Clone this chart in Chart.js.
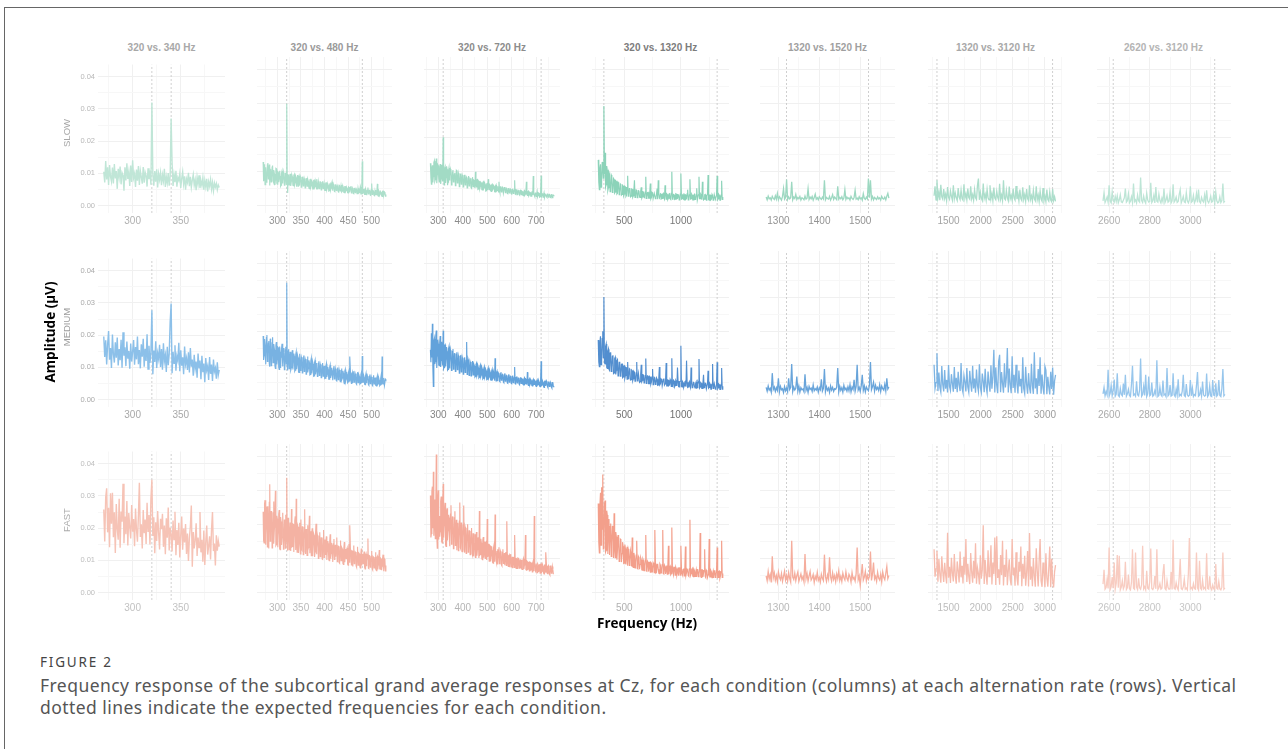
<!DOCTYPE html>
<html>
<head>
<meta charset="utf-8">
<script src="https://cdn.jsdelivr.net/npm/chart.js@4.4.1/dist/chart.umd.min.js"></script>
<style>
  html, body { margin: 0; padding: 0; background: #fff; }
  body { width: 1288px; height: 749px; position: relative; overflow: hidden; font-family: "Liberation Sans", Arial, sans-serif; }
  .frame { position: absolute; left: 4px; top: 7px; width: 1300px; height: 800px; border-top: 1px solid #666; border-left: 1px solid #666; }
  canvas { position: absolute; }
  .lbl { position: absolute; white-space: nowrap; transform: translate(-50%, -50%); }
  .rot { transform: translate(-50%, -50%) rotate(-90deg); }
  .strip { font-weight: bold; font-size: 10px; }
  .rate { font-size: 9.5px; color: #aaa; }
  .axis-title { font-family: "Open Sans", sans-serif; font-weight: bold; font-size: 13.5px; color: #000; }
  .cap-title { position: absolute; left: 40px; top: 653px; font-family: "Noto Sans", sans-serif; font-size: 13.5px; letter-spacing: 1.8px; color: #444; white-space: nowrap; }
  .cap-text { position: absolute; left: 40px; top: 674px; font-family: "Noto Sans", sans-serif; font-size: 17.5px; letter-spacing: 0.45px; line-height: 22px; color: #555; white-space: nowrap; }
</style>
</head>
<body>
<div class="frame"></div>
<div id="fig"></div>
<div class="cap-title">FIGURE 2</div>
<div class="cap-text">Frequency response of the subcortical grand average responses at Cz, for each condition (columns) at each alternation rate (rows). Vertical<br>dotted lines indicate the expected frequencies for each condition.</div>
<script>
// ---- conditions (columns) and alternation rates (rows) ----
const conditions = ['320 vs. 340 Hz', '320 vs. 480 Hz', '320 vs. 720 Hz', '320 vs. 1320 Hz', '1320 vs. 1520 Hz', '1320 vs. 3120 Hz', '2620 vs. 3120 Hz'];
const rates = ['SLOW', 'MEDIUM', 'FAST'];
const expectedHz = [[320, 340], [320, 480], [320, 720], [320, 1320], [1320, 1520], [1320, 3120], [2620, 3120]];

// frequency bins of each condition: first bin and bin spacing (Hz)
const binStart = [270, 270, 268, 270, 1270, 1275, 2570];
const binStep = [1, 1, 2, 5, 2.5, 15, 5];

// x range and breaks per condition
const xLimits = [[264, 396], [257, 543], [242.8, 797.2], [215, 1425], [1255, 1585], [1180.5, 3259.5], [2540, 3200]];
const xMajor = [[300, 350], [300, 350, 400, 450, 500], [300, 400, 500, 600, 700], [500, 1000], [1300, 1400, 1500], [1500, 2000, 2500, 3000], [2600, 2800, 3000]];
const xMinor = [[275, 325, 375], [275, 325, 375, 425, 475, 525], [250, 350, 450, 550, 650, 750], [250, 750, 1250], [1350, 1450, 1550], [1250, 1750, 2250, 2750, 3250], [2700, 2900, 3100]];
const yMajor = [0, 0.01, 0.02, 0.03, 0.04];
const yMinor = [0.005, 0.015, 0.025, 0.035];
const yLimits = [-0.0023, 0.0438];

// ---- grand-average amplitudes, in nV (1 nV = 0.001 µV) ----
// SLOW
const slow_320_340 = [10.5,7.2,13.8,8.1,11.9,6.4,12.6,9.0,7.5,11.8, 6.9,12.9,8.4,10.7,5.2,11.4,8.8,12.1,6.6,10.2, 9.4,4.6,11.9,7.8,13.1,8.3,10.5,6.1,12.4,7.3, 14.1,8.6,9.9,5.8,11.2,7.7,12.3,6.4,10.8,8.9, 6.8,12.0,7.1,10.4,9.3,5.9,11.6,8.2,10.9,6.5, 32.0,9.8,6.2,10.7,7.4,11.3,5.6,9.9,8.0,10.2, 6.3,9.5,7.6,11.4,5.8,8.9,7.0,10.1,6.2,9.2, 27.0,13.4,6.1,9.6,7.3,10.8,5.9,8.7,7.8,9.9, 5.5,8.4,10.5,6.7,9.1,4.9,8.3,7.2,10.2,6.0, 8.9,5.7,7.9,9.6,6.3,8.0,4.8,8.8,6.6,9.4, 5.4,7.7,6.2,8.6,4.9,7.8,5.8,8.3,4.4,7.4, 6.0,8.1,5.1,7.2,4.6,7.0,5.7,6.8,4.9,6.4, 5.6];
const slow_320_480 = [12.8,7.1,8.0,12.1,6.1,9.8,11.2,6.8,7.3,11.9,12.5,7.8,9.4,12.0,5.8,10.6,10.3,6.9,8.1,11.3, 11.7,7.2,6.6,10.4,9.2,6.0,7.5,10.9,10.8,6.5,6.2,9.9,9.7,6.8,7.9,10.2,8.6,5.6,5.9,9.5, 10.1,6.4,7.0,9.7,8.8,5.9,6.3,9.4,9.6,6.2,30.0,7.4,3.6,9.0,8.9,6.0,6.4,9.2,9.3,5.7, 7.2,8.9,8.4,5.9,5.8,8.8,9.1,6.1,6.7,8.6,8.2,5.5,7.4,8.9,5.6,8.3,8.7,5.8,6.3,8.4, 7.9,5.3,5.4,8.2,8.5,5.7,6.6,7.9,7.3,5.1,5.2,7.8,8.0,5.6,6.1,7.7,7.0,5.0,4.9,7.5, 7.6,5.3,5.8,7.2,6.9,4.8,4.8,7.3,7.4,5.2,5.5,6.9,6.3,4.7,7.7,5.4,4.7,7.0,6.2,4.9, 5.3,6.9,6.8,4.5,4.6,6.7,7.1,4.9,5.7,6.5,6.0,4.4,4.4,6.6,6.6,4.6,5.1,6.3,5.9,4.2, 4.3,6.2,6.4,4.5,5.0,6.4,6.9,4.3,4.5,6.1,5.6,4.1,4.0,6.0,6.1,4.4,4.8,5.8,5.4,4.0, 3.9,5.9,5.8,4.2,4.6,5.7,6.0,3.9,4.2,5.6,5.2,3.8,3.7,5.5,5.5,4.1,4.4,5.3,5.0,3.7, 3.6,5.4,5.3,3.8,4.1,5.2,5.7,3.6,3.9,5.1,4.8,3.5,3.4,5.0,5.1,3.7,4.0,4.9,4.6,3.4, 3.5,5.0,4.9,3.6,3.8,4.8,5.4,3.3,3.3,4.7,13.0,3.5,3.6,4.6,4.7,3.2,3.2,4.8,4.4,3.1, 3.0,4.5,5.2,3.3,3.6,4.4,4.3,3.0,2.9,4.6,6.4,3.2,3.4,4.3,4.1,2.9,2.8,4.2,4.5,3.1, 3.1,4.1,6.3,2.9,2.7,4.3,4.0,3.0,3.3,4.0,3.8,2.8,2.6,4.1,4.2,3.0,3.0,3.9,3.7,2.7, 3.2];
const slow_320_720 = [12.4,8.1,6.2,10.9,11.8,6.7,8.5,12.6,13.1,7.1,7.6,11.4,13.8,6.5,9.0,12.0,11.7,7.9,6.9,10.2, 12.2,6.3,7.8,11.9,10.9,7.0,20.1,8.4,6.0,10.8,11.3,6.6,8.2,11.5,10.6,5.9,6.8,10.0,11.0,7.3, 8.6,10.6,9.9,6.0,6.4,9.8,10.4,6.9,7.5,9.2,9.6,5.8,6.1,10.3,10.1,6.6,7.2,9.5,8.8,5.5, 5.9,9.1,9.4,6.2,6.8,8.9,8.5,5.4,5.6,8.7,9.0,6.0,6.5,8.4,8.1,5.1,5.3,8.0,8.6,5.7, 6.2,7.9,7.7,5.2,5.0,7.8,8.3,5.5,5.8,7.4,7.2,5.0,9.9,6.1,5.4,7.5,7.6,4.7,4.8,7.1, 7.0,5.0,5.6,6.8,6.6,4.6,4.5,6.7,6.9,4.9,5.2,6.5,6.1,4.2,4.3,6.3,6.4,4.5,7.7,5.8, 4.6,6.1,5.9,4.3,4.1,6.0,6.2,4.6,4.9,5.8,5.6,4.0,3.9,5.7,6.0,4.2,4.4,5.6,5.3,3.9, 6.9,4.5,3.8,5.4,5.5,3.9,4.2,5.3,5.1,3.6,3.6,5.2,5.4,3.7,4.0,5.0,4.8,3.5,3.4,4.9, 5.0,3.6,3.9,4.8,4.6,3.4,3.3,4.7,4.9,3.5,3.7,4.5,7.4,3.3,3.2,4.6,4.5,3.1,3.8,4.4, 4.2,3.2,3.0,4.3,4.6,3.1,3.4,4.2,4.0,2.9,2.8,4.1,4.3,3.0,3.3,4.0,6.9,3.2,2.9,3.9, 4.1,2.8,3.1,3.8,3.7,2.7,2.7,3.9,4.0,3.0,8.6,3.4,3.0,2.6,3.6,3.7,2.6,2.9,3.9,2.5, 2.9,3.6,3.5,2.4,2.5,3.4,8.7,2.7,3.2,3.5,2.4,2.9,3.6,2.3,2.8,3.4,3.3,2.5,2.3,3.3, 3.4,2.4,2.6,3.2,3.1,2.3,2.2,3.1,3.3,2.2,2.5,3.0,2.9];
const slow_320_1320 = [13.4,6.8,4.6,11.0,12.1,5.3,7.0,12.8,11.2,8.0,29.3,9.2,15.5,5.4,6.1,11.6,10.3,4.4,5.2,9.7, 9.1,4.0,4.8,8.9,8.4,3.8,4.1,7.9,7.6,3.6,3.9,7.2,7.0,3.3,3.5,6.8,6.5,3.1,3.7,6.3, 6.1,3.0,3.2,5.9,5.7,2.8,3.3,5.6,5.4,2.6,2.9,5.2,8.7,2.7,3.0,4.9,5.0,2.5,2.7,4.8, 4.7,2.4,2.8,4.6,7.4,2.3,2.5,4.5,4.4,2.2,2.6,4.3,4.2,2.4,2.3,4.1,5.3,2.1,2.5,4.0, 3.9,2.3,2.2,3.9,8.4,2.0,2.4,3.7,3.8,2.1,2.1,3.6,6.4,1.9,2.3,3.8,3.6,2.0,2.0,3.5, 3.5,1.9,2.2,3.4,4.9,1.8,7.4,3.6,2.1,1.9,3.4,3.3,1.9,2.0,3.3,3.5,2.2,1.8,5.9,3.2, 1.8,3.4,3.2,1.7,2.1,3.3,3.4,1.9,1.7,3.5,9.9,1.8,2.0,3.2,3.1,1.7,1.8,3.4,3.3,1.9, 2.0,3.1,3.0,1.6,1.7,3.3,9.4,1.8,1.9,3.0,3.2,1.7,1.6,3.2,3.1,1.8,2.0,3.4,4.6,1.6, 1.7,3.1,7.7,1.8,1.9,3.3,3.0,1.6,1.6,3.0,3.2,1.7,1.8,3.2,5.0,1.5,1.5,3.1,8.4,1.9, 1.9,3.3,3.0,1.6,6.9,3.0,1.6,1.8,3.1,3.2,1.8,1.5,2.9,3.1,8.9,1.7,1.5,3.0,3.0,1.6, 1.8,3.2,2.8,1.5,1.6,3.1,3.1,1.7,1.7,3.0,8.6,1.6,1.9,3.2,2.9,1.5,1.5,3.0,7.2,1.7, 2.4];
const slow_1320_1520 = [2.4,1.6,2.7,1.9,2.2,1.5,2.6,2.0,1.7,2.8, 1.8,3.5,1.6,2.5,2.0,1.5,2.6,4.9,1.8,2.3, 7.6,1.7,2.5,1.9,2.2,6.9,1.6,2.4,2.0,3.2, 1.7,2.3,1.9,2.6,1.5,2.2,2.0,1.6,2.7,1.8, 2.1,4.9,1.7,2.4,1.9,2.6,1.5,2.3,3.3,1.8, 2.2,1.6,2.5,2.0,1.7,2.4,1.9,7.4,1.6,2.3, 2.0,1.8,2.6,1.5,2.2,3.1,1.7,2.4,2.0,1.6, 5.6,1.8,2.3,1.9,2.5,1.6,2.1,4.6,1.7,2.4, 1.9,2.2,1.5,2.6,2.0,1.7,2.3,4.4,1.8,2.1, 1.6,2.5,1.9,2.2,1.5,3.4,2.0,1.7,2.4,1.9, 7.9,2.2,7.4,1.8,2.6,1.6,2.3,2.0,1.7,2.5, 1.9,2.2,1.5,2.6,2.0,1.8,2.4,1.6,2.7,3.5, 2.1];
const slow_1320_3120 = [2.8,5.6,1.6,7.4,2.2,3.9,1.5,6.0,2.5,1.8, 4.8,2.0,3.3,1.4,5.4,2.3,1.7,4.2,2.6,1.5, 5.9,1.9,3.6,2.2,1.4,5.1,2.4,1.7,4.5,2.0, 1.5,6.2,2.1,3.4,1.6,4.9,2.3,1.8,5.6,1.9, 3.1,1.5,4.6,2.2,1.7,5.8,7.9,1.6,3.8,2.1, 1.4,6.4,2.0,3.2,1.5,4.7,2.2,1.6,5.9,1.9, 3.5,1.4,5.2,2.1,1.6,4.1,2.3,1.5,6.3,1.8, 3.0,1.4,7.4,2.0,1.6,4.4,2.2,1.3,5.5,1.9, 2.9,1.4,4.9,2.1,1.5,5.7,1.8,3.3,1.3,4.6, 2.0,1.4,5.3,1.7,3.1,1.2,4.8,2.0,1.4,5.9, 1.7,2.8,1.2,4.4,1.9,1.3,5.6,1.6,3.0,1.1, 4.2,1.8,1.2,5.1,1.5,2.7,1.1,4.6,1.7,1.2, 3.9,1.5,1.0,4.8,1.4,2.5,1.1];
const slow_2620_3120 = [1.3,3.7,0.8,1.5,2.4,0.9,5.9,1.2,0.7,3.9, 1.4,0.9,2.6,1.1,2.8,0.7,1.6,3.1,1.0,0.8, 1.5,2.2,4.9,0.9,1.3,3.4,0.7,1.2,2.5,0.8, 6.4,1.1,1.6,0.7,3.0,1.3,0.9,8.2,1.4,0.8, 2.7,1.2,0.6,3.6,1.5,0.9,1.1,6.6,0.8,1.3, 2.9,0.7,5.4,1.2,0.9,3.3,1.4,0.7,2.1,1.0, 4.9,0.8,1.5,2.8,0.9,1.2,3.9,0.7,1.3,6.2, 0.9,1.4,2.4,0.8,1.1,3.2,4.6,0.7,1.5,2.6, 1.0,0.8,3.7,1.3,0.7,1.6,5.6,0.9,1.2,2.9, 0.7,1.4,3.5,0.8,4.6,1.1,0.7,2.3,1.3,0.9, 3.0,0.8,4.4,1.2,0.7,1.5,2.7,0.9,1.1,3.4, 0.8,3.9,1.3,0.7,1.0,2.5,0.8,1.4,6.4,0.9, 1.2];
// MEDIUM
const medium_320_340 = [19.6,13.2,18.4,10.9,17.1,21.3,12.4,16.0,9.8,20.2, 14.1,11.5,17.8,13.0,19.3,10.6,15.7,12.2,18.6,9.9, 20.9,13.6,16.2,10.4,18.0,12.7,15.1,9.6,17.4,11.8, 14.9,18.5,10.8,16.3,12.5,19.6,11.0,15.4,9.7,17.2, 13.3,18.9,10.2,15.8,12.0,20.3,9.5,16.7,11.4,14.6, 27.7,7.9,15.2,11.7,18.1,9.8,14.4,12.6,17.0,10.1, 15.7,9.3,17.5,11.9,13.8,8.6,16.4,10.7,14.2,24.0, 29.8,8.2,14.8,11.3,16.9,9.0,13.5,12.1,17.6,8.8, 15.3,10.5,13.1,7.9,16.5,11.0,12.8,9.2,14.7,8.4, 16.0,10.2,12.4,7.4,13.9,9.6,11.8,6.8,14.3,9.9, 12.1,6.3,13.6,8.5,11.2,5.4,12.9,9.1,10.4,6.1, 13.2,8.0,10.9,5.8,12.4,8.7,9.8,6.5,11.6,7.6, 9.2];
const medium_320_480 = [18.7,11.6,12.9,17.8,16.1,10.9,10.3,18.2,19.0,11.2,13.5,16.6,17.2,10.5,9.6,17.9,15.8,9.9,11.4,16.7, 18.3,10.8,12.0,16.3,14.6,9.8,9.1,15.9,16.9,10.3,11.7,15.4,15.2,9.5,8.8,15.6,14.0,9.2,12.4,14.9, 16.4,9.7,10.1,15.1,13.7,8.7,8.9,14.6,15.5,10.4,34.4,9.6,8.5,14.2,14.8,9.0,10.6,14.0,13.2,8.6, 9.4,13.6,14.5,8.8,11.1,13.5,12.7,8.3,8.6,13.1,13.9,8.9,10.2,12.9,12.3,8.0,7.9,12.7,13.4,8.5, 10.6,12.4,11.8,7.8,8.1,12.2,12.9,8.2,9.7,11.9,11.3,7.4,7.5,11.8,12.6,7.9,9.2,11.5,10.8,7.2, 7.3,11.3,12.1,7.6,8.9,11.0,10.4,6.8,6.9,10.9,11.5,7.3,8.4,10.7,10.0,6.7,7.1,10.6,11.2,7.0, 8.0,10.3,9.6,6.4,6.5,10.1,10.7,6.8,7.8,9.9,9.3,6.1,6.2,9.8,10.5,6.6,7.4,9.6,8.8,5.9, 5.9,9.5,10.1,6.3,7.2,9.3,8.5,5.6,5.7,9.2,9.8,6.0,6.9,9.0,8.2,5.5,5.4,8.9,9.4,5.8, 6.6,8.7,7.9,5.3,5.2,8.6,9.1,5.7,6.3,8.4,7.7,5.1,4.6,8.3,8.8,5.4,6.0,8.1,7.4,4.9, 5.1,8.0,8.5,5.2,12.6,7.9,5.8,4.7,7.2,7.8,4.8,7.7,8.3,5.0,5.6,7.5,6.9,4.6,4.4,7.4, 8.0,4.9,5.3,7.3,6.7,4.5,4.7,7.2,7.8,4.8,12.8,5.1,5.0,7.0,6.5,4.4,4.3,6.9,7.6,4.7, 5.4,6.8,6.2,4.3,4.1,6.7,7.3,4.6,5.2,6.6,6.0,4.2,4.0,6.5,7.1,4.5,4.9,6.4,5.8,4.1, 3.9,6.3,6.9,4.4,4.6,6.2,5.6,4.0,4.2,6.1,7.0,4.3,12.6,4.8,4.5,6.0,6.3,4.1,4.1,5.9, 5.7];
const medium_320_720 = [14.6,10.9,19.5,12.3,22.3,9.6,3.8,17.2,17.9,10.4,11.2,18.8,20.3,9.2,12.8,17.6,16.4,10.1,9.9,16.8, 18.7,9.5,11.5,17.0,15.3,10.0,20.2,9.0,9.4,15.9,16.1,9.7,11.9,15.4,14.2,8.6,8.8,14.9,15.6,9.1, 10.7,14.5,13.5,8.5,9.1,14.1,14.8,8.9,10.3,13.6,12.6,8.2,8.4,13.3,13.9,8.7,9.6,12.9,12.2,7.7, 7.9,12.6,13.1,8.1,9.0,12.3,11.6,7.4,7.5,11.9,12.4,7.9,8.7,11.5,16.9,7.3,7.6,11.7,11.0,7.0, 8.3,11.1,10.5,6.9,7.1,10.8,11.3,7.2,7.9,10.4,9.8,6.6,6.8,10.2,10.6,6.9,7.4,9.9,9.3,6.3, 6.5,9.7,10.1,6.7,7.2,9.4,8.9,6.0,6.2,9.1,9.6,6.4,6.9,8.8,8.4,5.8,5.9,8.7,9.2,6.2, 6.6,8.5,8.0,5.7,5.6,8.3,8.8,6.0,6.3,8.1,7.6,5.5,12.1,7.8,5.4,7.9,8.3,5.3,6.1,7.7, 7.4,5.4,5.2,7.5,8.0,5.6,5.9,7.3,7.1,5.1,4.9,7.2,7.7,5.3,5.6,7.0,6.8,4.8,4.7,6.9, 7.4,5.0,5.3,6.8,6.6,4.7,4.6,6.7,7.0,4.9,5.1,6.5,9.5,4.6,4.5,6.4,6.7,4.8,5.0,6.3, 6.1,4.5,4.3,6.2,6.5,4.7,4.8,6.1,5.9,4.4,4.2,6.0,6.3,4.5,4.7,5.9,5.7,4.3,8.0,5.8, 4.1,5.7,6.0,4.2,4.6,5.8,5.5,4.1,3.9,5.6,5.9,4.3,4.4,5.5,5.3,4.0,3.8,5.4,5.7,4.2, 4.3,5.5,5.1,3.9,3.7,5.3,11.2,4.1,4.2,5.4,5.0,3.8,3.5,5.2,5.4,3.9,4.0,5.3,4.8,3.7, 3.4,5.1,5.2,3.8,3.9,5.0,4.6,3.6,3.3,4.9,5.0,3.7,3.8];
const medium_320_1320 = [17.5,11.0,9.6,16.8,18.6,10.2,11.2,17.9,20.1,12.3,30.2,10.8,10.4,15.6,16.3,9.4,9.1,14.2,14.8,8.8, 8.5,13.6,13.9,8.2,9.3,12.7,13.0,7.6,7.8,12.0,12.4,7.3,8.6,11.4,11.7,6.9,7.2,10.9,11.1,6.8, 7.5,10.3,10.4,6.4,6.6,9.8,9.9,6.2,7.0,9.4,9.3,5.9,11.0,6.1,6.3,9.0,8.8,5.7,5.8,8.6, 8.4,5.5,6.1,8.2,7.9,5.3,5.5,7.8,11.0,5.4,5.9,7.6,7.6,5.0,5.2,7.4,10.2,5.2,5.6,7.2, 7.1,4.8,4.9,7.0,12.0,4.7,5.4,6.9,6.8,4.6,4.6,6.7,6.5,4.5,5.1,6.6,8.9,4.3,4.4,6.4, 6.2,4.4,4.8,6.3,5.9,4.1,4.2,6.2,9.5,4.3,4.6,6.0,5.8,4.0,4.0,5.9,6.1,4.2,4.5,5.8, 10.7,3.9,3.9,5.7,5.6,4.1,4.3,5.8,5.3,3.8,12.1,4.0,3.8,5.6,5.4,3.7,4.1,5.5,5.1,3.9, 9.4,5.4,3.7,3.6,5.2,5.3,15.8,3.8,3.6,5.2,4.9,3.5,4.0,5.1,5.3,3.7,11.4,5.0,3.5,3.6, 4.8,5.2,3.9,3.4,9.4,5.0,3.4,3.5,5.0,4.9,3.8,3.3,4.6,5.1,3.3,3.4,5.2,4.8,11.9,3.3, 3.6,4.9,4.7,3.2,3.2,4.8,7.2,3.4,3.7,4.7,4.5,3.1,3.1,4.6,8.4,3.3,3.5,4.7,4.4,3.0, 3.0,4.5,10.4,3.2,3.6,4.6,4.6,3.0,3.1,4.4,10.9,3.1,3.4,4.5,4.3,2.9,2.9,4.4,9.2,3.0, 3.8];
const medium_1320_1520 = [3.5,2.4,3.9,2.7,3.2,2.1,7.7,2.9,3.6,2.3, 3.4,2.6,6.2,2.2,3.8,2.8,3.1,2.0,3.7,2.5, 3.3,2.2,6.2,2.9,3.5,10.4,2.3,3.6,2.7,3.2, 6.7,2.4,3.9,2.1,3.4,2.8,3.0,2.2,7.4,2.6, 3.5,2.0,3.8,2.9,3.3,2.3,4.2,2.5,3.1,2.7, 3.6,2.1,3.4,2.8,5.9,2.4,3.2,8.9,2.2,3.7, 2.6,3.3,2.0,3.9,2.7,3.5,2.3,3.1,2.9,3.6, 9.2,2.2,3.8,2.6,3.4,2.1,4.1,2.8,3.3,2.4, 3.7,2.5,4.3,2.2,3.6,2.9,5.7,2.4,3.8,10.2, 2.7,3.5,2.3,4.0,7.2,2.6,3.9,2.2,3.6,3.0, 2.5,4.2,11.0,2.8,3.7,5.0,2.4,4.1,2.9,3.5, 2.6,4.3,2.3,3.9,3.1,2.7,4.4,2.5,6.2,3.0, 3.6];
const medium_1320_3120 = [10.2,3.2,4.9,13.6,2.4,7.9,3.5,2.1,9.8,4.4, 2.3,8.6,3.1,5.7,2.0,10.1,3.8,2.6,7.4,4.6, 2.2,9.5,3.0,6.3,2.1,8.1,4.2,2.4,10.7,3.3, 2.0,7.0,5.1,2.3,9.2,3.6,2.1,8.4,4.8,2.2, 9.9,3.2,6.1,1.9,8.8,4.0,2.3,10.3,3.4,2.0, 7.6,5.3,2.1,9.0,3.7,1.9,8.2,4.5,2.2,10.0, 3.1,6.7,14.6,2.0,9.4,4.1,1.8,11.2,13.1,2.1, 8.0,4.7,1.9,10.6,3.5,6.4,15.1,2.0,9.1,4.3, 1.8,12.7,3.3,7.2,1.9,10.2,4.6,1.7,8.5,3.8, 6.0,1.8,12.4,3.1,1.7,9.6,4.4,1.6,7.7,3.5, 1.7,10.5,4.0,1.6,13.9,3.2,6.2,1.5,8.9,3.9, 12.4,1.6,7.3,3.4,1.4,9.7,8.6,1.5,6.6,3.6, 1.4,8.1,3.0,9.4,1.3,5.4,7.2];
const medium_2620_3120 = [1.6,3.5,1.0,2.3,1.3,8.7,0.9,1.7,4.1,1.1, 2.6,5.8,0.9,1.5,7.7,1.2,0.8,3.2,1.4,1.0, 4.6,1.3,7.2,0.9,1.6,2.9,1.1,0.8,4.4,9.9, 1.2,1.5,0.9,5.3,1.3,1.0,2.7,12.0,0.9,1.4, 3.8,1.1,7.2,0.8,1.6,6.7,1.0,1.3,4.9,0.9, 1.2,2.5,1.4,11.5,0.8,1.1,3.6,1.3,0.9,5.5, 1.2,1.5,0.8,9.2,1.0,1.4,4.2,0.9,1.1,7.7, 1.3,0.8,3.0,1.2,5.9,0.9,1.4,1.0,2.4,7.2, 1.1,0.8,4.5,1.3,0.9,1.2,5.7,1.0,3.3,0.8, 1.4,1.1,4.0,8.0,0.9,1.2,2.8,1.0,5.2,1.3, 0.9,1.1,7.6,0.8,1.3,3.9,1.0,0.8,5.7,1.2, 1.0,4.7,0.9,1.3,5.7,1.1,0.8,3.1,8.9,1.0, 1.4];
// FAST
const fast_320_340 = [25.8,15.9,29.6,32.4,18.7,26.3,14.1,30.8,21.4,31.0, 17.2,24.9,12.3,27.5,19.8,16.4,29.1,13.9,25.2,22.0, 33.8,15.3,23.6,18.1,28.4,14.6,24.7,20.3,16.8,27.2, 18.9,22.8,14.4,26.1,19.5,15.8,23.9,34.1,17.3,21.2, 13.7,25.6,18.4,22.7,15.1,27.9,19.0,24.1,14.9,29.3, 35.0,17.6,23.4,12.2,21.8,16.0,25.3,18.6,13.4,22.9, 19.7,24.5,14.2,20.8,11.9,23.1,17.0,26.4,13.1,20.2, 18.2,12.8,22.4,16.5,25.1,11.6,19.4,14.8,21.7,10.9, 17.9,23.6,13.3,19.9,15.6,21.3,12.0,18.3,9.8,16.9, 20.6,27.0,8.0,18.8,13.7,16.2,21.5,11.4,17.1,14.0, 25.0,12.5,16.4,9.6,19.3,8.6,15.7,20.8,11.8,14.5, 17.5,10.3,19.6,25.0,12.9,15.2,8.4,17.8,13.0,16.1, 14.3];
const fast_320_480 = [23.8,15.2,14.6,26.1,27.2,14.0,16.9,25.3,20.5,13.4,25.4,17.8,12.9,26.6,31.9,15.1,18.3,24.0,22.1,13.1, 15.4,23.6,26.8,14.3,19.2,24.8,30.0,13.8,14.1,22.6,21.7,13.3,17.5,23.1,24.3,12.8,12.6,22.2,20.9,14.0, 16.2,21.8,23.5,12.7,13.8,21.5,19.6,13.0,22.9,15.0,33.8,13.9,12.3,22.0,21.2,12.6,15.9,20.6,18.7,12.2, 24.6,13.4,13.5,20.2,20.1,11.9,16.7,21.1,22.4,12.5,27.6,14.8,11.8,19.8,19.3,11.6,14.7,20.5,17.9,11.3, 21.5,12.9,12.6,19.5,18.5,11.1,15.2,19.1,24.5,12.0,11.3,18.7,17.4,10.9,19.8,12.3,13.2,18.4,22.6,11.5, 15.6,18.0,10.8,17.6,18.9,10.6,14.3,17.3,16.8,10.4,11.9,17.1,20.2,11.2,13.0,16.8,15.9,10.0,10.2,16.5, 17.7,10.5,12.8,16.2,15.0,9.8,9.7,16.0,18.4,10.3,13.6,15.6,11.2,15.3,16.5,9.5,12.1,15.1,14.4,9.6, 9.3,14.8,17.1,9.9,11.5,14.6,13.9,9.2,8.9,14.3,15.7,9.7,12.4,14.0,10.5,13.8,16.2,9.0,11.0,13.6, 13.5,8.8,8.6,13.4,15.3,9.3,10.9,13.2,12.7,8.5,8.2,13.0,14.8,8.9,11.6,12.8,9.9,12.7,13.1,8.3, 8.0,12.5,14.2,8.7,19.8,12.3,10.4,8.1,12.3,12.2,7.6,12.0,13.8,8.4,10.0,11.9,11.7,7.8,7.4,11.7, 13.4,8.0,9.5,11.6,11.3,7.5,7.2,11.4,12.9,7.9,10.1,11.3,8.4,11.1,12.0,7.3,6.9,11.0,11.4,7.7, 9.2,10.9,15.9,7.1,7.0,10.8,10.7,7.4,8.8,10.6,12.2,6.9,6.6,10.5,10.3,7.2,8.5,10.4,11.8,6.8, 6.4,10.3,10.6,6.7,8.1,10.1,12.5,6.9,6.8,10.0,9.8,6.5,7.7,9.9,11.1,6.4,6.2,9.8,9.4,6.3, 7.9];
const fast_320_720 = [28.6,16.2,17.4,29.8,31.2,18.9,35.6,16.7,20.9,27.4,15.8,24.6,40.7,17.1,13.0,27.9,30.1,15.6,22.5,16.4, 17.9,26.9,28.3,15.0,14.6,25.8,32.0,16.1,19.7,24.3,26.4,14.0,13.5,23.7,24.8,15.3,18.2,22.9,22.0,13.6, 14.9,23.1,25.7,14.2,16.8,22.4,21.3,12.9,13.1,22.0,23.9,13.8,17.6,21.4,12.4,19.8,20.5,12.3,15.2,21.0, 26.5,13.2,12.8,20.6,19.4,12.0,16.0,19.9,25.6,12.6,11.7,19.2,18.5,11.5,14.2,18.8,20.1,11.8,12.0,18.3, 17.3,11.1,13.6,17.9,19.0,11.4,10.9,17.4,16.2,10.6,14.4,17.1,10.3,16.6,17.8,10.8,12.7,16.2,15.1,10.1, 24.0,11.0,11.2,15.8,14.6,9.9,9.6,15.4,16.3,10.2,12.1,15.0,10.0,14.6,14.9,9.5,21.6,10.4,11.5,14.3, 9.2,13.9,13.7,9.1,10.8,13.6,12.4,8.8,8.6,13.2,14.0,9.0,23.0,12.9,9.4,8.7,12.2,12.7,8.2,12.4, 13.3,8.4,10.1,12.1,11.6,8.1,7.8,11.8,12.7,8.5,9.3,11.6,8.0,11.3,11.9,7.9,21.0,11.1,8.9,7.6, 10.7,11.0,7.4,10.7,11.3,7.5,8.6,10.5,7.1,10.3,10.4,7.3,16.9,10.1,7.7,7.0,9.8,10.0,6.9,9.8, 10.2,7.1,8.3,9.7,7.0,9.6,9.5,6.8,6.7,9.4,9.9,6.9,8.1,9.3,16.9,6.7,6.5,9.2,9.0,6.6, 7.6,9.0,6.3,8.9,8.8,6.4,7.2,8.8,6.0,8.7,9.3,6.2,22.5,8.6,6.4,6.1,8.5,8.5,5.8,8.4, 8.1,6.0,6.9,8.3,5.6,8.2,8.4,5.9,6.2,8.1,7.7,5.7,5.4,8.0,8.0,5.8,11.8,7.9,5.7,5.5, 7.5,7.8,6.0,5.4,5.1,7.7,7.9,5.6,5.8,7.6,6.7,5.3,5.3];
const fast_320_1320 = [26.2,14.8,11.6,25.7,29.4,13.9,31.0,18.6,34.8,12.8,15.3,26.0,27.1,11.9,12.4,24.1,22.8,11.3,17.5,21.6, 11.0,19.4,20.3,10.6,14.6,19.6,18.1,10.1,23.3,12.6,10.2,17.8,16.4,9.6,12.5,16.9,14.9,9.1,9.3,15.7, 15.5,8.9,11.4,14.8,13.6,8.5,8.6,14.1,12.9,8.2,10.5,13.4,7.8,12.8,12.1,7.9,9.4,12.3,11.3,7.6, 16.2,7.5,7.3,11.6,10.6,7.2,8.8,11.0,15.2,7.0,6.9,10.5,10.1,6.8,8.2,10.2,9.6,6.6,6.5,9.8, 9.3,6.4,7.7,9.5,16.9,6.3,6.2,9.2,8.9,6.1,7.4,9.0,5.9,8.8,8.6,6.0,7.0,8.7,8.3,5.8, 18.4,8.5,5.7,5.9,8.1,8.4,6.8,5.6,5.5,8.3,7.9,5.7,6.6,8.2,18.4,5.5,5.4,8.0,7.6,5.4, 6.3,7.9,5.3,7.8,13.7,5.3,7.4,7.7,5.2,5.5,19.1,7.6,6.1,5.2,7.2,7.5,5.0,7.4,6.9,5.1, 5.9,7.3,4.9,7.2,7.3,5.0,13.7,7.1,5.6,5.1,6.7,7.0,4.8,6.9,13.5,5.0,5.8,6.8,6.5,4.9, 4.7,6.9,21.4,5.0,5.5,6.7,7.0,4.8,4.6,6.8,6.4,4.7,5.7,6.6,4.5,6.7,6.8,4.6,5.3,6.5, 17.5,4.7,4.4,6.6,6.6,4.5,5.6,6.4,12.7,4.6,4.3,6.5,6.2,4.4,5.1,6.3,15.7,4.5,4.5,6.4, 6.0,4.3,5.4,6.2,4.2,6.3,6.5,4.4,5.0,6.1,13.2,4.3,4.4,6.2,6.3,4.2,4.9,6.0,15.2,4.4, 5.5];
const fast_1320_1520 = [4.8,3.4,6.1,3.9,5.2,2.9,10.6,4.3,5.7,3.5, 4.9,3.1,6.0,4.4,3.7,5.5,3.2,4.7,6.2,3.6, 5.0,3.3,5.8,4.1,3.0,15.2,4.5,3.8,5.6,3.4, 4.9,6.0,3.2,4.3,5.4,3.7,4.6,3.1,11.3,4.0, 5.5,3.3,4.8,6.1,3.6,4.2,5.2,2.9,4.7,3.8, 5.9,3.5,4.4,3.0,5.3,4.1,3.4,11.1,4.6,3.2, 5.1,3.9,10.3,4.5,3.3,5.7,3.8,4.9,3.1,5.4, 4.0,6.3,3.5,4.7,3.2,5.6,4.3,3.6,6.0,4.1, 3.4,5.3,4.6,3.0,5.8,3.9,4.4,3.3,5.5,13.2, 3.7,4.8,2.0,5.1,8.3,3.6,4.5,6.2,3.4,5.0, 3.8,4.6,12.0,3.5,5.4,8.8,3.9,4.7,3.2,5.9, 4.2,3.6,5.3,3.1,6.0,4.4,3.7,5.6,7.6,4.0, 4.9];
const fast_1320_3120 = [12.7,4.6,6.9,12.2,3.1,9.8,5.4,2.8,10.6,6.2, 3.0,8.7,5.1,2.6,17.6,4.3,7.5,2.7,10.2,5.6, 3.2,11.3,4.9,2.5,9.1,6.3,2.9,12.0,4.4,7.8, 2.6,10.5,5.2,15.7,3.0,8.4,4.7,2.4,11.6,6.0, 2.8,9.3,4.1,14.5,2.5,7.2,5.5,2.3,10.9,4.0, 6.6,19.8,2.4,9.6,5.0,2.2,12.4,4.6,7.0,13.9, 2.3,8.8,5.3,16.2,2.1,16.5,4.2,6.8,2.2,11.0, 5.1,15.2,2.0,8.1,4.5,12.6,2.1,6.4,9.7,3.8, 2.0,15.7,5.0,7.3,1.9,11.8,4.3,2.0,9.0,6.1, 13.5,1.8,8.4,4.0,10.8,1.9,5.8,12.2,1.7,17.5, 3.7,7.6,1.8,10.1,4.9,1.6,13.0,6.5,1.7,9.3, 15.7,3.4,1.6,8.8,5.6,1.5,11.5,4.2,1.6,7.1, 13.5,1.5,9.9,3.6,1.4,6.0,8.0];
const fast_2620_3120 = [2.4,6.6,0.9,1.4,3.8,1.1,13.2,0.8,1.6,4.5, 1.2,8.8,0.9,2.7,11.0,1.3,10.8,0.7,1.5,3.4, 1.0,1.8,9.0,0.8,1.4,5.2,1.1,0.7,2.9,12.7, 1.2,0.9,11.7,1.5,0.8,4.1,1.3,0.9,2.2,13.7, 1.0,1.6,0.7,6.3,1.2,0.9,3.0,12.9,1.1,0.8, 1.5,4.8,1.0,12.7,0.8,1.3,2.6,0.9,1.2,5.6, 8.3,1.1,0.7,3.5,1.4,0.9,1.0,6.0,0.8,15.5, 1.2,0.9,2.8,1.3,0.7,4.4,9.8,1.1,0.8,1.6, 3.9,0.9,1.2,0.7,5.3,16.0,1.0,1.4,0.8,2.5, 1.1,0.9,11.7,1.3,0.7,9.3,1.2,0.8,3.6,1.0, 1.4,0.8,11.5,1.1,0.9,4.7,1.3,0.7,2.1,1.0, 0.8,8.3,1.2,0.9,3.2,1.0,0.7,1.5,11.7,0.9, 1.3];

const amplitudes = [
  [slow_320_340, slow_320_480, slow_320_720, slow_320_1320, slow_1320_1520, slow_1320_3120, slow_2620_3120],
  [medium_320_340, medium_320_480, medium_320_720, medium_320_1320, medium_1320_1520, medium_1320_3120, medium_2620_3120],
  [fast_320_340, fast_320_480, fast_320_720, fast_320_1320, fast_1320_1520, fast_1320_3120, fast_2620_3120]
];

// ---- styling ----
const lineColors = [
  ['#c0e6d7', '#acdfcb', '#a2dbc5', '#8cd3b9', '#9dd8c1', '#acdecb', '#bde5d6'],
  ['#8cc0e9', '#78b2e2', '#62a2db', '#528ecf', '#68a4da', '#7db4e3', '#97c6ec'],
  ['#f6c3b6', '#f4b2a3', '#f4ab9b', '#f39f8b', '#f5ad9d', '#f6bcae', '#f8ccc1']
];
const lineWidths = [1.4, 1.15, 1.15, 1.15, 1.3, 1.3, 1.3];
const xTickColors = [
  ['#b0b0b0', '#939393', '#8a8a8a', '#777777', '#939393', '#a3a3a3', '#b0b0b0'],
  ['#a8a8a8', '#939393', '#858585', '#707070', '#8c8c8c', '#9c9c9c', '#ababab'],
  ['#c2c2c2', '#bababa', '#b5b5b5', '#b0b0b0', '#b8b8b8', '#bdbdbd', '#c6c6c6']
];
const yTickColors = ['#b8b8b8', '#aaaaaa', '#bdbdbd'];
const stripColors = ['#a8a8a8', '#9a9a9a', '#8c8c8c', '#7c7c7c', '#9f9f9f', '#a8a8a8', '#b4b4b4'];
const rateColors = ['#a8a8a8', '#9c9c9c', '#ababab'];

// ---- panel geometry (px) ----
const panelLeft = [98, 257, 424, 592, 760, 928, 1096];
const panelWidth = [127, 135, 136, 137, 135, 135, 135];
const panelTop = [57, 251, 444];
const panelHeight = 156;
const xAxisHeight = 18;
const yAxisWidth = 32;

const fig = document.getElementById('fig');

function addLabel(text, x, y, cls, color) {
  const d = document.createElement('div');
  d.className = 'lbl ' + cls;
  d.textContent = text;
  d.style.left = x + 'px';
  d.style.top = y + 'px';
  if (color) d.style.color = color;
  fig.appendChild(d);
}

const near = (v, list) => list.some(m => Math.abs(m - v) < 1e-9);

function makePanel(r, c) {
  const yw = c === 0 ? yAxisWidth : 0;
  const cv = document.createElement('canvas');
  const w = panelWidth[c] + yw;
  const h = panelHeight + xAxisHeight;
  cv.width = w; cv.height = h;
  cv.style.left = (panelLeft[c] - yw) + 'px';
  cv.style.top = panelTop[r] + 'px';
  cv.style.width = w + 'px'; cv.style.height = h + 'px';
  fig.appendChild(cv);

  const amps = amplitudes[r][c];
  const spectrum = amps.map((a, i) => ({ x: binStart[c] + i * binStep[c], y: a / 1000 }));

  const datasets = expectedHz[c].map(f => ({
    data: [{ x: f, y: yLimits[0] }, { x: f, y: yLimits[1] }],
    borderColor: '#c4c4c4', borderWidth: 0.8, borderDash: [2, 2],
    pointRadius: 0, fill: false, order: 2
  }));
  datasets.push({
    data: spectrum, borderColor: lineColors[r][c], borderWidth: lineWidths[c],
    borderJoinStyle: 'miter', pointRadius: 0, tension: 0, fill: false, order: 1
  });

  const xBreaks = xMajor[c].concat(xMinor[c]).sort((a, b) => a - b);
  const yBreaks = yMajor.concat(yMinor).sort((a, b) => a - b);

  new Chart(cv, {
    type: 'line',
    data: { datasets },
    options: {
      responsive: false, animation: false, devicePixelRatio: 1, events: [],
      layout: { padding: 0 },
      plugins: { legend: { display: false }, tooltip: { enabled: false } },
      scales: {
        x: {
          type: 'linear', min: xLimits[c][0], max: xLimits[c][1],
          afterBuildTicks: s => { s.ticks = xBreaks.map(v => ({ value: v })); },
          afterFit: s => { s.height = xAxisHeight; },
          border: { display: false },
          grid: {
            drawTicks: false,
            color: ctx => (ctx.tick && near(ctx.tick.value, xMajor[c])) ? '#f0f0f0' : '#f7f7f7',
            lineWidth: 1
          },
          ticks: {
            autoSkip: false, maxRotation: 0, padding: 2,
            color: xTickColors[r][c],
            font: { family: '"Liberation Sans", Arial, sans-serif', size: 10 },
            callback: v => near(v, xMajor[c]) ? String(v) : ''
          }
        },
        y: {
          type: 'linear', min: yLimits[0], max: yLimits[1],
          afterBuildTicks: s => { s.ticks = yBreaks.map(v => ({ value: v })); },
          afterFit: s => { s.width = yw; },
          border: { display: false },
          grid: {
            drawTicks: false,
            color: ctx => (ctx.tick && near(ctx.tick.value, yMajor)) ? '#f0f0f0' : '#f7f7f7',
            lineWidth: 1
          },
          ticks: {
            display: c === 0, padding: 3,
            color: yTickColors[r],
            font: { family: '"Liberation Sans", Arial, sans-serif', size: 7.5 },
            callback: v => near(v, yMajor) ? v.toFixed(2) : ''
          }
        }
      }
    }
  });
}

for (let r = 0; r < rates.length; r++) {
  for (let c = 0; c < conditions.length; c++) makePanel(r, c);
}

// strip titles above each column
conditions.forEach((t, c) => addLabel(t, panelLeft[c] + panelWidth[c] / 2, 47, 'strip', stripColors[c]));
// rate labels on the left of each row
rates.forEach((t, r) => addLabel(t, 66, panelTop[r] + panelHeight / 2 - 2, 'rate rot', rateColors[r]));
// axis titles
addLabel('Amplitude (µV)', 50, 332, 'axis-title rot');
addLabel('Frequency (Hz)', 647, 623, 'axis-title');
</script>
</body>
</html>
